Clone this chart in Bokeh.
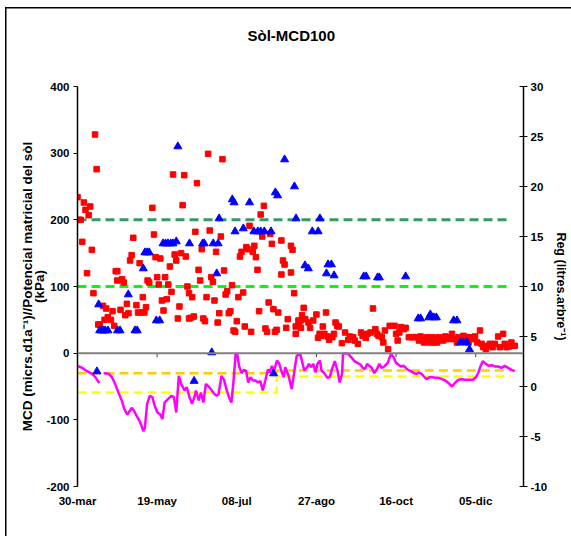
import math
from bokeh.plotting import figure
from bokeh.models import Range1d, LinearAxis, FixedTicker, Span
from bokeh.embed import file_html
from bokeh.resources import INLINE

# ---- data (days counted from 30-mar) ----
# soil matric potential (kPa), red squares, left axis
pot_day = [0, 1, 2, 3, 4, 5, 6, 7, 8, 9, 10, 11, 12, 13, 14, 16, 17, 18, 19, 21, 22, 23,
           24, 25, 25, 27, 28, 29, 30, 31, 32, 33, 34, 35, 37, 38, 39, 40, 41, 42, 43, 44,
           45, 47, 48, 49, 50, 51, 52, 53, 54, 55, 56, 57, 58, 59, 60, 61, 62, 63, 64, 65,
           66, 67, 68, 69, 70, 70,
           71, 72, 73, 74, 75, 76, 77, 78, 79, 80, 81, 82, 83, 84, 85, 86, 87, 88, 89, 90,
           91, 92, 93, 94, 95, 96, 97, 98, 99, 100, 101, 102, 103, 104, 105, 106, 107, 108,
           109, 110, 111, 112, 113, 114, 115, 116, 117, 118, 119, 120, 121, 122, 123, 124,
           125, 126, 128, 128, 129, 130, 131, 132, 134, 134, 135, 136, 137, 137, 138.7, 139,
           140, 140.3,
           141, 142, 143, 145, 146, 148, 150, 151, 152, 153, 154, 155, 156, 157, 158, 160,
           161, 162, 163, 164, 166, 168, 170, 171, 173, 174, 176, 178, 179, 181, 182, 184,
           185.5, 187, 188, 189, 191, 192, 193, 195, 196, 199, 200, 201, 202, 203, 205, 206,
           208, 210,
           211.2, 213.3, 214.3, 215.4, 216.4, 217.5, 218.5, 219.5, 221.2, 222.6, 223.7,
           224.7, 225.7, 226.8, 227.8, 229.5, 230.9, 232.4, 233.6, 235.1, 236.1, 238.2,
           239.2, 240.3, 242.3, 244.0, 245.5, 246.5, 248.2, 249.6, 251.0, 252.7, 253.7,
           254.8, 256.4, 257.9, 258.9, 260.6, 262.0, 264.1, 265.1, 267.2, 268.2, 269.3,
           270.9, 272.4, 274.5]
pot_kpa = [234, 200, 200, 167, 226, 215, 120, 207, 220, 155, 90, 328, 276, 43, 43, 71, 50, 67, 54, 50, 63, 41,
           123, 123, 109, 65, 111, 106, 57, 74, 60, 139, 147, 173, 72, 61, 135, 61, 84, 61, 69, 109,
           106, 218, 178, 144, 114, 103, 142, 79, 64, 114, 81, 103, 130, 92, 268, 148, 139, 52, 70, 150,
           222, 267, 145, 100, 90, 52,
           53, 84, 55, 182, 255, 125, 109, 156, 52, 48, 84, 299, 184, 114, 107, 79, 152, 46, 60, 175,
           291, 124, 88, 93, 60, 63, 102, 34, 32, 48, 84, 145, 152, 91, 40, 159, 156, 191,
           32, 152, 161, 144, 125, 63, 208, 175, 221, 37, 32, 76, 179, 164, 66, 32,
           35, 61, 169, 118, 139, 133, 38, 51, 161, 121, 155, 90, 29, 40, 49, 43,
           49, 38,
           57, 68, 51, 46, 38, 49, 58, 23, 29, 26, 40, 29, 61, 25, 20, 24,
           29, 46, 41, 40, 15, 31, 20, 25, 24, 19, 14, 31, 26, 23, 29, 31,
           67, 36, 29, 26, 24, 16, 34, 6, 41, 41, 29, 19, 31, 39, 36, 38,
           24, 24,
           24, 24, 19, 25, 20, 16, 19, 24, 16, 24, 16,
           23, 16, 24, 20, 19, 25, 21, 24, 29, 21, 16,
           24, 19, 26, 24, 16, 24, 21, 25, 16, 34, 14,
           9, 6, 11, 14, 9, 14, 25, 9, 29, 14, 9,
           10, 16, 11]

# irrigation (litres per tree), blue triangles, right axis
reg_day = [12.2, 13.3, 13.9, 15.3, 16.4, 17.4, 19.1, 25.1, 26.7, 31.9, 36.1, 37.5, 41.3, 42.3,
           43.7, 45.0, 49.5, 51.6, 53.7, 55.3, 56.8, 58.5, 59.9, 62.0, 63.0, 70.3, 73.2, 78.6,
           79.6, 84.3, 85.2, 87.4, 88.3, 88.9, 97.2, 98.3, 98.9, 104.1, 108.0, 110.7, 113.2,
           115.0, 117.3, 121.5, 123.1, 124.2, 125.6, 130.0, 136.2, 137.2, 142.8, 144.9, 147.4,
           151.1, 152.2, 156.3, 157.3, 159.4, 161.1, 179.7, 181.2, 188.4, 189.5, 206.0, 213.9,
           215.4, 220.6, 221.5, 223.7, 225.3, 236.1, 238.2, 240.3, 242.3, 244.4, 246.1]
reg_litres = [1.5, 8.2, 5.6, 5.6, 5.6, 5.6, 5.6, 5.6, 5.6, 9.2, 5.6, 5.6, 11.8, 13.4,
              13.4, 13.4, 6.6, 6.6, 14.3, 14.3, 14.3, 14.3, 14.3, 14.5, 24.0, 14.3, 0.55, 14.3,
              14.3, 3.4, 14.3, 11.3, 14.3, 16.8, 18.7, 18.4, 15.5, 15.8, 18.4, 15.5, 15.5,
              15.5, 15.5, 15.5, 1.3, 19.4, 19.1, 22.7, 20.0, 16.8, 12.1, 11.8, 15.5,
              15.5, 16.8, 11.3, 12.2, 12.2, 11.1, 11.0, 11.0, 10.9, 10.9, 11.0, 6.8,
              6.8, 6.9, 7.2, 6.9, 6.9, 6.6, 6.6, 4.4, 4.4, 4.4, 3.7]

# maximum daily trunk shrinkage (MCD), magenta line, left axis (gap = missing days)
mcd_day = [0, 2.9, 6, 9.1, 11.2, 13.7, 15, 16.4, 19.5, 21.6, 23.6, 25.7, 27.8, 29.4, 31.3, 33, 34,
           35.4, 37.1, 38.8, 40.2, 41.3, 42.3, 43.7, 45.4, 47, 48.5, 50.2, 52, 53.3, 54.7, 56.8,
           58.9, 60.5, 62, 63.6, 65.1, 67.2, 68.6, 70.3, 71.9, 73.4, 74.4, 76.1, 77.5, 79, 80.6,
           82.7, 84.4, 85.8, 87.3, 88.5, 90.4, 92, 93.5, 95.1, 96.6, 97.8, 99.3, 100.3, 101.4,
           103, 104.5, 105.9, 107.2, 108.6, 110.1, 111.7, 113.4, 114.8, 116.3, 117.9, 119.6,
           120.6, 122.1, 123.1, 125.2, 126.7, 127.9, 129.4, 130.4, 132.5, 134.5, 136.2, 137.6,
           139.8, 142.4, 143.9, 145.3, 146.6, 148, 149.5, 150.7, 152.2, 153.2, 154.9, 156.9,
           158.4, 159.8, 161.5, 163.2, 164.6, 166.1, 166.7, 167.7, 169.8, 171.8, 173.9, 176,
           177.6, 179.1, 180.5, 181.8, 183.2, 184.7, 186.4, 188, 189.5, 190.9, 192.6, 194.7,
           196.8, 198.4, 199.9, 201.3, 203, 204.6, 206.1, 207.5, 209.2, 211.3, 212.9, 214.3,
           216, 217.5, 219.1, 221.2, 222.6, 224.7, 226.8, 228.9, 230.9, 233, 235.1, 237.2,
           239.2, 241.3, 243.4, 245.5, 248.2, 250.2, 251.7, 252.8, 254.4, 255.9, 258, 260,
           262.1, 264.1, 266.2, 268.2, 270.3, 272.4, 274.5]
mcd_val = [-19, -22, -27, -31, -36, -45, math.nan, -30, -31, -36, -46, -59, -71, -84, -92, -86, -82,
           -86, -94, -101, -109, -117, -112, -76, -64, -66, -79, -89, -92, -99, -74, -69,
           -64, -66, -89, -34, -46, -56, -51, -66, -76, -66, -56, -71, -59, -74, -46,
           -51, -56, -61, -64, -62, -34, -40, -54, -66, -74, -46, -1, -1, -19,
           -30, -25, -27, -44, -36, -41, -41, -44, -42, -56, -41, -24,
           -29, -19, -29, -11, -16, -26, -36, -21, -34, -54, -26, -4,
           -1, -26, -22, -16, -21, -16, -29, -16, -11, -26, -30, -37,
           -36, -24, -12, -26, -44, -31, -1, 0, -1, -6, -12, -15,
           -17, -22, -24, -16, -19, -22, -30, -24, -16, -22, -20, -15,
           -1, -6, -14, -17, -20, -19, -22, -25, -27, -30, -31, -29,
           -31, -35, -39, -36, -36, -37, -37, -39, -41, -45, -50, -44,
           -40, -39, -40, -40, -40, -36, -29, -21, -12, -15, -19, -18,
           -20, -20, -22, -19, -22, -25, -27]

# reference thresholds
kpa_thresholds = [200, 100]               # soil matric potential limits (kPa)
mcd_orange = [-30, -30, -26, -26]         # MCD threshold, two periods
mcd_yellow = [-59, -59, -35, -35]         # MCD threshold, two periods
threshold_days = [0, 125, 125, 272]
kpa_line_days = [0, 272]

date_ticks = [0, 50, 100, 150, 200, 250]
date_labels = ["30-mar", "19-may", "08-jul", "27-ago", "16-oct", "05-dic"]
left_ticks = [-200, -100, 0, 100, 200, 300, 400]
right_ticks = [-10, -5, 0, 5, 10, 15, 20, 25, 30]

# ---- figure ----
TICK_FONT = "'Liberation Sans Narrow', 'Liberation Sans', Arial, sans-serif"
LABEL_FONT = "'Liberation Sans', Arial, sans-serif"

p = figure(width=571, height=536, x_range=Range1d(0, 280), y_range=Range1d(-200, 400),
           output_backend="svg", toolbar_location=None,
           min_border_left=77, min_border_right=43, min_border_top=86, min_border_bottom=50)
p.extra_y_ranges = {"reg": Range1d(-10, 30)}
p.xgrid.visible = False
p.ygrid.visible = False
p.outline_line_color = None
p.background_fill_color = "white"
p.border_fill_color = None
# thin frame line around the chart area (left and top edges visible)
p.styles = {"box-shadow": "inset 5px 7px 0 0 white, inset 6.5px 8.5px 0 0 black",
            "background-color": "white"}

# title (blank second line lifts it well above the plot area)
p.title.text = "Sòl-MCD100\n "
p.title.align = "left"
p.title.offset = 170
p.title.standoff = 44
p.title.text_font = LABEL_FONT
p.title.text_font_style = "bold"
p.title.text_font_size = "15px"
p.title.text_line_height = 1.2
p.title.text_color = "black"


def style_ticks(ax):
    ax.major_label_text_font = TICK_FONT
    ax.major_label_text_font_style = "bold"
    ax.major_label_text_font_size = "11.5px"
    ax.major_label_text_color = "black"
    ax.minor_tick_line_color = None


def plain_minus(ticks):
    return {t: str(t) for t in ticks if t < 0}


# bottom axis: date labels only
xa = p.xaxis[0]
xa.ticker = FixedTicker(ticks=date_ticks)
xa.major_label_overrides = {t: s for t, s in zip(date_ticks, date_labels)}
xa.axis_line_color = None
xa.major_tick_line_color = None
xa.major_label_standoff = 2
style_ticks(xa)

# left axis
ya = p.yaxis[0]
ya.ticker = FixedTicker(ticks=left_ticks)
ya.major_label_overrides = plain_minus(left_ticks)
ya.axis_line_color = "black"
ya.axis_line_width = 1.5
ya.major_tick_in = 0
ya.major_tick_out = 4
ya.major_tick_line_color = "black"
ya.major_label_standoff = 4
style_ticks(ya)
ya.axis_label = "MCD (micrs.d1a⁻¹)//Potencial matricial del sòl\n(kPa)"
ya.axis_label_standoff = -4
ya.axis_label_text_font = LABEL_FONT
ya.axis_label_text_font_style = "bold"
ya.axis_label_text_font_size = "13.5px"
ya.axis_label_text_line_height = 0.8
ya.axis_label_text_color = "black"
ya.axis_label_text_align = "center"

# right axis for irrigation
ra = LinearAxis(y_range_name="reg", ticker=FixedTicker(ticks=right_ticks))
ra.major_label_overrides = plain_minus(right_ticks)
ra.axis_line_color = "black"
ra.axis_line_width = 1.5
ra.major_tick_in = 4
ra.major_tick_out = 4
ra.major_tick_line_color = "black"
ra.major_label_standoff = 3
style_ticks(ra)
ra.axis_label = "Reg (litres.arbre⁻¹)"
ra.axis_label_standoff = 4
ra.axis_label_text_font = LABEL_FONT
ra.axis_label_text_font_style = "bold"
ra.axis_label_text_font_size = "12.5px"
ra.axis_label_text_color = "black"
p.add_layout(ra, "right")

# zero line with date ticks
p.add_layout(Span(location=0, dimension="width", line_color="#808080", line_width=2))
p.segment(x0=date_ticks, y0=[0] * len(date_ticks), x1=date_ticks, y1=[-6] * len(date_ticks),
          line_color="#404040", line_width=1)

# threshold lines
p.line(kpa_line_days, [kpa_thresholds[0]] * 2, line_color="#339966", line_width=3, line_dash="9 5")
p.line(kpa_line_days, [kpa_thresholds[1]] * 2, line_color="#00FF00", line_width=3, line_dash="9 5")
p.line(threshold_days, mcd_orange, line_color="#FFCC00", line_width=2.5, line_dash="9 5")
p.line(threshold_days, mcd_yellow, line_color="#FFFF00", line_width=2.5, line_dash="9 5")

# series
p.scatter(pot_day, pot_kpa, marker="square", size=5.5, fill_color="#FF0000", line_color="#FF0000")
p.line(mcd_day, mcd_val, line_color="#FF00FF", line_width=2.5)
p.scatter(reg_day, reg_litres, y_range_name="reg", marker="triangle", size=8,
          fill_color="#0000FF", line_color="#0000FF")

open("out.html", "w").write(file_html(p, INLINE))
